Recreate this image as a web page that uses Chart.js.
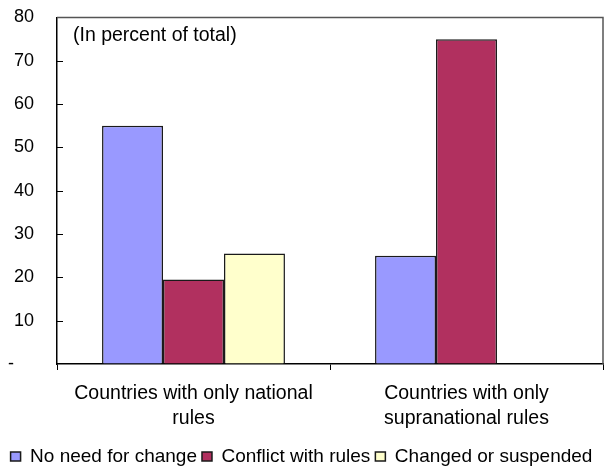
<!DOCTYPE html>
<html>
<head>
<meta charset="utf-8">
<script src="https://cdn.jsdelivr.net/npm/chart.js@4"></script>
<style>
  html, body { margin: 0; padding: 0; background: #fff; }
  #wrap { width: 612px; height: 467px; }
</style>
</head>
<body>
<div id="wrap"><canvas id="chart" width="612" height="467"></canvas></div>
<script>
const categories = [
  ["Countries with only national", "rules"],
  ["Countries with only", "supranational rules"],
];
const noNeedForChange = [55, 25];
const conflictWithRules = [19.5, 75];
const changedOrSuspended = [25.5, null];
const yTicks = [0, 10, 20, 30, 40, 50, 60, 70, 80];

Chart.defaults.font.family = "'Liberation Sans', Arial, sans-serif";
Chart.defaults.color = "#000";

// frame + inward y ticks + note text
const framePlugin = {
  id: "frame",
  afterDraw(chart) {
    const { ctx, chartArea: a } = chart;
    const y = chart.scales.y;
    ctx.save();
    ctx.strokeStyle = "#555";
    ctx.lineWidth = 1.5;
    ctx.beginPath();
    ctx.moveTo(a.left, a.top);
    ctx.lineTo(a.right, a.top);
    ctx.lineTo(a.right, a.bottom);
    ctx.stroke();

    ctx.strokeStyle = "#000";
    ctx.lineWidth = 1;
    y.ticks.forEach((t) => {
      if (t.value <= 0 || t.value >= 80) return;
      const py = Math.round(y.getPixelForValue(t.value)) + 0.5;
      ctx.beginPath();
      ctx.moveTo(a.left, py);
      ctx.lineTo(a.left + 6, py);
      ctx.stroke();
    });

    ctx.fillStyle = "#000";
    ctx.font = "19.5px 'Liberation Sans', Arial, sans-serif";
    ctx.textAlign = "left";
    ctx.textBaseline = "middle";
    ctx.fillText("(In percent of total)", a.left + 16, a.top + 18);
    ctx.restore();
  },
};

const border = { borderColor: "#1a1a1a", borderWidth: 1.5 };

new Chart(document.getElementById("chart"), {
  type: "bar",
  data: {
    labels: categories,
    datasets: [
      { label: "No need for change", data: noNeedForChange, backgroundColor: "#9999FF", ...border },
      { label: "Conflict with rules", data: conflictWithRules, backgroundColor: "#B1305F", ...border },
      { label: "Changed or suspended", data: changedOrSuspended, backgroundColor: "#FFFFCC", ...border },
    ],
  },
  options: {
    responsive: false,
    animation: false,
    layout: { padding: { top: 17.5, right: 9, left: 0, bottom: -9 } },
    datasets: { bar: { categoryPercentage: 0.67, barPercentage: 1 } },
    scales: {
      x: {
        grid: { offset: true, drawOnChartArea: false, tickLength: 6, color: "#000" },
        border: { display: true, color: "#000", width: 1.5 },
        ticks: {
          font: { size: 19.5, lineHeight: 1.3 },
          padding: 11,
          maxRotation: 0,
          autoSkip: false,
        },
        afterFit(scale) { scale.height = 78; },
      },
      y: {
        min: 0,
        max: 80,
        afterBuildTicks(scale) { scale.ticks = yTicks.map((v) => ({ value: v })); },
        grid: { drawOnChartArea: false, drawTicks: false },
        border: { display: true, color: "#000", width: 1.5 },
        ticks: {
          font: { size: 18 },
          padding: 23,
          callback: (v) => (v === 0 ? "-    " : v),
        },
        afterFit(scale) {
          scale.width = 57;
          scale.paddingTop = 0;
          scale.paddingBottom = 0;
        },
      },
    },
    plugins: {
      legend: {
        position: "bottom",
        labels: {
          font: { size: 19 },
          boxWidth: 10,
          boxHeight: 9,
          padding: 5,
          color: "#000",
        },
      },
      tooltip: { enabled: false },
    },
  },
  plugins: [framePlugin],
});
</script>
</body>
</html>
